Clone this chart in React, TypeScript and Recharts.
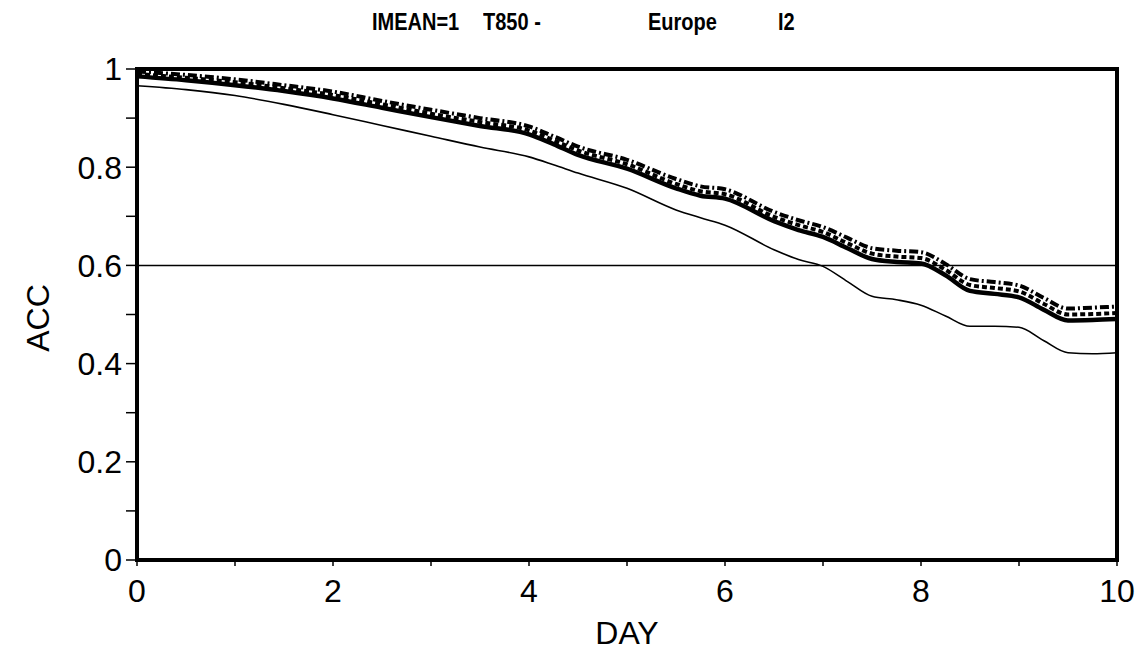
import React from 'react';
import { LineChart, Line, XAxis, YAxis, ReferenceLine, ReferenceArea } from 'recharts';

const days = [0, 0.5, 1, 1.5, 2, 2.5, 3, 3.5, 4, 4.25, 4.5, 5, 5.5, 5.75, 6, 6.5, 6.75, 7, 7.25, 7.5, 7.75, 8, 8.25, 8.5, 8.75, 9, 9.25, 9.5, 9.75, 10];

const thinSeries = [0.966, 0.958, 0.946, 0.928, 0.907, 0.885, 0.863, 0.841, 0.821, 0.805, 0.788, 0.757, 0.713, 0.697, 0.682, 0.632, 0.612, 0.598, 0.567, 0.537, 0.53, 0.519, 0.497, 0.476, 0.476, 0.474, 0.447, 0.422, 0.42, 0.422];

const solidSeries = [0.985, 0.977, 0.967, 0.955, 0.94, 0.921, 0.902, 0.884, 0.867, 0.847, 0.825, 0.797, 0.757, 0.742, 0.736, 0.69, 0.672, 0.658, 0.635, 0.613, 0.607, 0.604, 0.58, 0.548, 0.542, 0.535, 0.51, 0.488, 0.489, 0.491];

const dashedSeries = [0.99, 0.982, 0.973, 0.961, 0.947, 0.928, 0.909, 0.892, 0.875, 0.855, 0.834, 0.806, 0.766, 0.751, 0.745, 0.699, 0.682, 0.668, 0.645, 0.624, 0.618, 0.615, 0.591, 0.56, 0.554, 0.547, 0.522, 0.5, 0.501, 0.503];

const dashDotSeries = [0.995, 0.988, 0.979, 0.967, 0.954, 0.935, 0.917, 0.9, 0.883, 0.863, 0.842, 0.815, 0.776, 0.761, 0.755, 0.709, 0.692, 0.678, 0.656, 0.635, 0.63, 0.627, 0.603, 0.572, 0.566, 0.559, 0.534, 0.512, 0.514, 0.516];

const xTicks = [0, 1, 2, 3, 4, 5, 6, 7, 8, 9, 10];
const yTicks = [0, 0.1, 0.2, 0.3, 0.4, 0.5, 0.6, 0.7, 0.8, 0.9, 1];
const yLabels: Record<string, string> = { '0': '0', '0.2': '0.2', '0.4': '0.4', '0.6': '0.6', '0.8': '0.8', '1': '1' };
const titleParts = ['IMEAN=1', 'T850 -', 'Europe', 'I2'];
const titleLefts = [372, 483, 648, 778];

const data = days.map((d, i) => ({
  day: d,
  thin: thinSeries[i],
  solid: solidSeries[i],
  dashed: dashedSeries[i],
  dashdot: dashDotSeries[i],
}));

const FONT = '"Liberation Sans", Arial, Helvetica, sans-serif';

export default function App() {
  return (
    <div style={{ position: 'absolute', left: 0, top: 0, width: 1146, height: 663, background: '#fff', fontFamily: FONT }}>
      {titleParts.map((t, i) => (
        <div key={t} style={{ position: 'absolute', left: titleLefts[i], top: 10, fontSize: 20, fontWeight: 'bold', lineHeight: '24px', color: '#000', transform: 'scaleY(1.15)', transformOrigin: 'left center' }}>{t}</div>
      ))}
      <LineChart width={1146} height={663} data={data} margin={{ top: 69, right: 29, bottom: 43, left: 77 }}>
        <XAxis
          dataKey="day"
          type="number"
          domain={[0, 10]}
          ticks={xTicks}
          tickFormatter={(v: number) => (v % 2 === 0 ? String(v) : '')}
          tickSize={6}
          tickMargin={13}
          axisLine={false}
          tickLine={{ stroke: '#000', strokeWidth: 1.5 }}
          tick={{ fill: '#000', fontSize: 32, fontFamily: FONT }}
          height={60}
          interval={0}
          label={() => (
            <text x={627} y={633} textAnchor="middle" dominantBaseline="central" fontSize={32} fontFamily={FONT} fill="#000">DAY</text>
          )}
        />
        <YAxis
          type="number"
          domain={[0, 1]}
          ticks={yTicks}
          tickFormatter={(v: number) => yLabels[String(Math.round(v * 10) / 10)] ?? ''}
          tickSize={11}
          tickMargin={4}
          axisLine={false}
          tickLine={{ stroke: '#000', strokeWidth: 1.5 }}
          tick={{ fill: '#000', fontSize: 32, fontFamily: FONT }}
          width={60}
          interval={0}
          label={() => (
            <text x={38} y={318} transform="rotate(-90 38 318)" textAnchor="middle" dominantBaseline="central" fontSize={32} fontFamily={FONT} fill="#000">ACC</text>
          )}
        />
        <ReferenceLine y={0.6} stroke="#000" strokeWidth={1.5} />
        <Line type="monotone" dataKey="thin" stroke="#000" strokeWidth={1.6} dot={false} isAnimationActive={false} />
        <Line type="monotone" dataKey="solid" stroke="#000" strokeWidth={4.5} dot={false} isAnimationActive={false} />
        <Line type="monotone" dataKey="dashed" stroke="#000" strokeWidth={4} strokeDasharray="5 3" dot={false} isAnimationActive={false} />
        <Line type="monotone" dataKey="dashdot" stroke="#000" strokeWidth={4} strokeDasharray="9 3 2 3" dot={false} isAnimationActive={false} />
        <ReferenceArea x1={0} x2={10} y1={0} y2={1} fill="none" fillOpacity={0} stroke="#000" strokeWidth={4} ifOverflow="visible" />
      </LineChart>
    </div>
  );
}
